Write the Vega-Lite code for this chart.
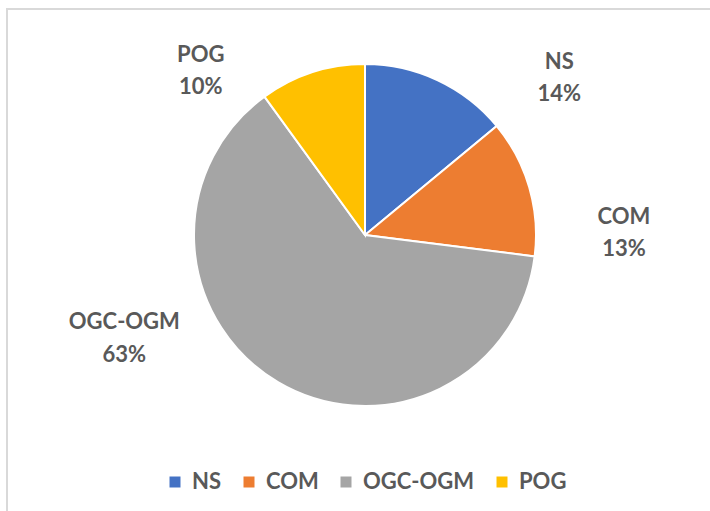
{
  "$schema": "https://vega.github.io/schema/vega-lite/v6.json",
  "width": 703,
  "height": 502,
  "autosize": {"type": "none"},
  "padding": {"left": 7, "top": 9, "right": 0, "bottom": 0},
  "background": "white",
  "view": {"stroke": "#d9d9d9", "strokeWidth": 2, "strokeDash": [703, 1205, 502]},
  "config": {
    "font": "Lato"
  },
  "data": {
    "values": [
      {"cat": "NS", "value": 0.14},
      {"cat": "COM", "value": 0.13},
      {"cat": "OGC-OGM", "value": 0.63},
      {"cat": "POG", "value": 0.10}
    ]
  },
  "transform": [{"stack": "value", "groupby": [], "as": ["v0", "v1"]}],
  "layer": [
    {
      "mark": {"type": "arc", "outerRadius": 171, "stroke": "white", "strokeWidth": 2, "x": 358, "y": 226},
      "encoding": {
        "theta": {"field": "v0", "type": "quantitative", "scale": {"domain": [0, 1]}},
        "theta2": {"field": "v1"},
        "color": {
          "field": "cat", "type": "nominal",
          "scale": {"domain": ["NS", "COM", "OGC-OGM", "POG"], "range": ["#4472C4", "#ED7D31", "#A5A5A5", "#FFC000"]},
          "legend": {
            "orient": "none", "legendX": 157, "legendY": 462, "direction": "horizontal", "title": null,
            "symbolType": "square", "symbolSize": 121, "symbolStrokeWidth": 0,
            "labelFont": "Lato", "labelFontSize": 22, "labelFontWeight": "bold", "labelColor": "#595959",
            "columnPadding": 16, "labelOffset": 6, "padding": 0
          }
        }
      }
    },
    {
      "transform": [{"filter": "datum.cat === 'NS'"}],
      "encoding": {"theta": {"field": "v1", "type": "quantitative"}},
      "layer": [
        {"mark": {"type": "text", "font": "Lato", "fontWeight": "bold", "fontSize": 22, "fill": "#595959", "baseline": "middle", "dy": -14, "radius": 251, "thetaOffset": 0.005, "x": 358, "y": 226}, "encoding": {"text": {"field": "cat"}}},
        {"mark": {"type": "text", "font": "Lato", "fontWeight": "bold", "fontSize": 22, "fill": "#595959", "baseline": "middle", "dy": 18, "radius": 251, "thetaOffset": 0.005, "x": 358, "y": 226}, "encoding": {"text": {"field": "value", "format": ".0%"}}}
      ]
    },
    {
      "transform": [{"filter": "datum.cat === 'COM'"}],
      "encoding": {"theta": {"field": "v1", "type": "quantitative"}},
      "layer": [
        {"mark": {"type": "text", "font": "Lato", "fontWeight": "bold", "fontSize": 22, "fill": "#595959", "baseline": "middle", "dy": -14, "radius": 259, "thetaOffset": -0.141, "x": 358, "y": 226}, "encoding": {"text": {"field": "cat"}}},
        {"mark": {"type": "text", "font": "Lato", "fontWeight": "bold", "fontSize": 22, "fill": "#595959", "baseline": "middle", "dy": 18, "radius": 259, "thetaOffset": -0.141, "x": 358, "y": 226}, "encoding": {"text": {"field": "value", "format": ".0%"}}}
      ]
    },
    {
      "transform": [{"filter": "datum.cat === 'OGC-OGM'"}],
      "encoding": {"theta": {"field": "v1", "type": "quantitative"}},
      "layer": [
        {"mark": {"type": "text", "font": "Lato", "fontWeight": "bold", "fontSize": 22, "fill": "#595959", "baseline": "middle", "dy": -14, "radius": 261, "thetaOffset": -1.34, "x": 358, "y": 226}, "encoding": {"text": {"field": "cat"}}},
        {"mark": {"type": "text", "font": "Lato", "fontWeight": "bold", "fontSize": 22, "fill": "#595959", "baseline": "middle", "dy": 19, "radius": 261, "thetaOffset": -1.34, "x": 358, "y": 226}, "encoding": {"text": {"field": "value", "format": ".0%"}}}
      ]
    },
    {
      "transform": [{"filter": "datum.cat === 'POG'"}],
      "encoding": {"theta": {"field": "v0", "type": "quantitative"}},
      "layer": [
        {"mark": {"type": "text", "font": "Lato", "fontWeight": "bold", "fontSize": 22, "fill": "#595959", "baseline": "middle", "dy": -13, "radius": 234, "thetaOffset": -0.15, "x": 358, "y": 226}, "encoding": {"text": {"field": "cat"}}},
        {"mark": {"type": "text", "font": "Lato", "fontWeight": "bold", "fontSize": 22, "fill": "#595959", "baseline": "middle", "dy": 19, "radius": 234, "thetaOffset": -0.15, "x": 358, "y": 226}, "encoding": {"text": {"field": "value", "format": ".0%"}}}
      ]
    }
  ]
}
